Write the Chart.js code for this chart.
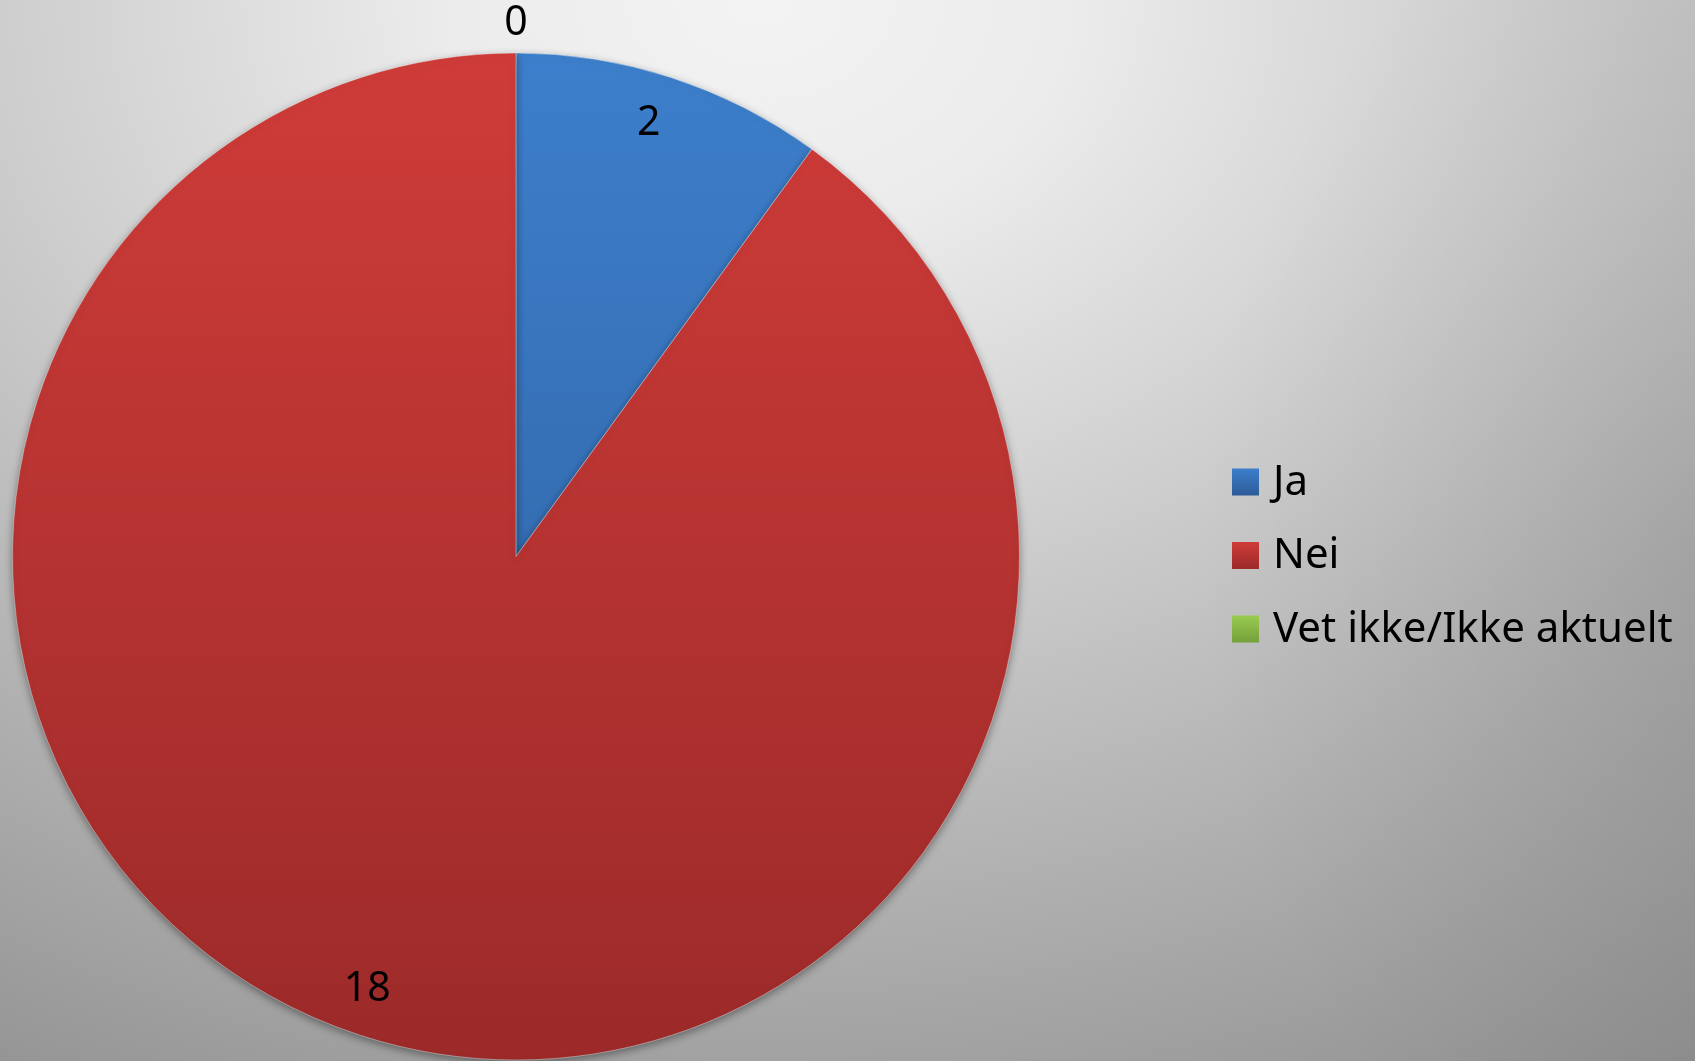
<!DOCTYPE html>
<html>
<head>
<meta charset="utf-8">
<script src="https://cdn.jsdelivr.net/npm/chart.js@4/dist/chart.umd.min.js"></script>
<style>
    html, body { margin: 0; padding: 0; }
    #wrap {
        width: 1695px;
        height: 1061px;
        position: relative;
        background:
            radial-gradient(ellipse 500px 700px at 1695px 550px, rgba(0,0,0,0.08) 0%, rgba(0,0,0,0) 100%),
            radial-gradient(ellipse 1800px 1350px at 760px 0px, #f3f3f3 0%, #ececec 17%, #888888 100%);
    }
</style>
</head>
<body>
<div id="wrap"><canvas id="pieChart"></canvas></div>
<script>
// data
const labels = ['Ja', 'Nei', 'Vet ikke/Ikke aktuelt'];
const values = [2, 18, 0];
const topColors = ['#3d7fcc', '#cf3c39', '#9acb50'];
const bottomColors = ['#2c5b97', '#9b2a29', '#74a03a'];

const fontFamily = '"Noto Sans", "Open Sans", sans-serif';

function sliceFill(ctx) {
    const chart = ctx.chart;
    const area = chart.chartArea;
    if (!area) return topColors[ctx.dataIndex];
    const g = chart.ctx.createLinearGradient(0, area.top, 0, area.bottom);
    g.addColorStop(0, topColors[ctx.dataIndex]);
    g.addColorStop(1, bottomColors[ctx.dataIndex]);
    return g;
}

// soft shadow under the pie
const pieShadow = {
    id: 'pieShadow',
    beforeDatasetsDraw(chart) {
        const c = chart.ctx;
        c.save();
        c.shadowColor = 'rgba(0,0,0,0.4)';
        c.shadowBlur = 9;
        c.shadowOffsetY = 3;
    },
    afterDatasetsDraw(chart) {
        chart.ctx.restore();
    }
};

// value labels, inside end (or just outside for empty slices)
const valueLabels = {
    id: 'valueLabels',
    afterDatasetsDraw(chart) {
        const c = chart.ctx;
        const meta = chart.getDatasetMeta(0);
        c.save();
        c.font = '41px ' + fontFamily;
        c.fillStyle = '#000';
        c.textAlign = 'center';
        c.textBaseline = 'middle';
        meta.data.forEach((arc, i) => {
            const p = arc.getProps(['x', 'y', 'startAngle', 'endAngle', 'outerRadius'], true);
            const mid = (p.startAngle + p.endAngle) / 2;
            const empty = values[i] === 0;
            const r = empty ? p.outerRadius + 30 : p.outerRadius - 48;
            const dx = empty ? 0 : -8;
            c.fillText(String(values[i]), p.x + Math.cos(mid) * r + dx, p.y + Math.sin(mid) * r);
        });
        c.restore();
    }
};

// legend on the right
const sideLegend = {
    id: 'sideLegend',
    afterDraw(chart) {
        const c = chart.ctx;
        const x0 = 1232, y0 = 482, step = 73.5, box = 27;
        c.save();
        c.font = '42px ' + fontFamily;
        c.textBaseline = 'middle';
        labels.forEach((lab, i) => {
            const cy = y0 + i * step;
            const g = c.createLinearGradient(0, cy - box / 2, 0, cy + box / 2);
            g.addColorStop(0, topColors[i]);
            g.addColorStop(1, bottomColors[i]);
            c.fillStyle = g;
            c.fillRect(x0, cy - box / 2, box, box);
            c.fillStyle = '#000';
            c.fillText(lab, x0 + 41, cy + 1);
        });
        c.restore();
    }
};

new Chart(document.getElementById('pieChart'), {
    type: 'pie',
    data: {
        labels: labels,
        datasets: [{
            data: values,
            backgroundColor: sliceFill,
            borderColor: 'rgba(255,255,255,0.35)',
            borderWidth: 1
        }]
    },
    options: {
        responsive: true,
        maintainAspectRatio: false,
        animation: false,
        layout: {
            padding: { left: 12, top: 52, right: 675, bottom: 0 }
        },
        plugins: {
            legend: { display: false },
            tooltip: { enabled: false }
        }
    },
    plugins: [pieShadow, valueLabels, sideLegend]
});
</script>
</body>
</html>
